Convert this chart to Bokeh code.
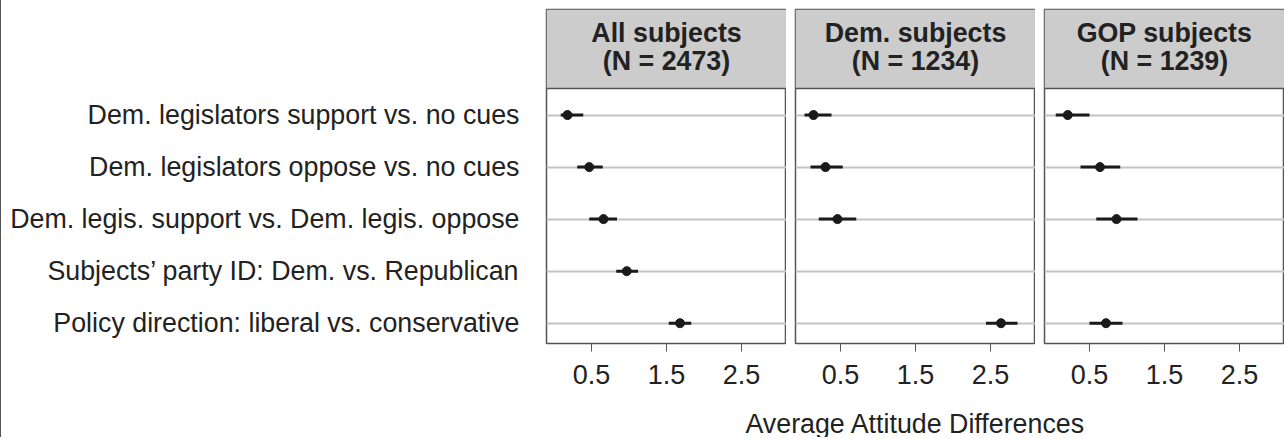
from bokeh.plotting import figure
from bokeh.layouts import row, column
from bokeh.models import Range1d, FixedTicker, BoxAnnotation, Span, Label, ColumnDataSource
from bokeh.embed import file_html
from bokeh.resources import INLINE

# ---------------- data ----------------
comparisons = [
    "Dem. legislators support vs. no cues",
    "Dem. legislators oppose vs. no cues",
    "Dem. legis. support vs. Dem. legis. oppose",
    "Subjects\u2019 party ID: Dem. vs. Republican",
    "Policy direction: liberal vs. conservative",
]
panel_titles = ["All subjects", "Dem. subjects", "GOP subjects"]
panel_ns = ["(N = 2473)", "(N = 1234)", "(N = 1239)"]
x_ticks = [0.5, 1.5, 2.5]
x_title = "Average Attitude Differences"

all_est = [0.18, 0.47, 0.66, 0.97, 1.68]
all_lo = [0.09, 0.31, 0.47, 0.83, 1.53]
all_hi = [0.39, 0.65, 0.84, 1.12, 1.83]

dem_est = [0.14, 0.30, 0.46, None, 2.64]
dem_lo = [0.02, 0.10, 0.21, None, 2.44]
dem_hi = [0.38, 0.53, 0.71, None, 2.86]

gop_est = [0.21, 0.64, 0.86, None, 0.72]
gop_lo = [0.05, 0.38, 0.59, None, 0.50]
gop_hi = [0.50, 0.91, 1.14, None, 0.94]

panels = [(all_est, all_lo, all_hi), (dem_est, dem_lo, dem_hi), (gop_est, gop_lo, gop_hi)]

# ---------------- styling / layout ----------------
FONT = "Liberation Sans"
TEXT = "#222222"
FRAME = "#555555"
DARK = "#1a1a1a"

TOP = 9
HEADER_H = 79
PLOT_H = 255
BOTTOM = 52
FIG_H = TOP + HEADER_H + PLOT_H + BOTTOM
TITLE_H = 42
PANEL_W = 240
GAP = 9
LABEL_W = 545

n = len(comparisons)
row_y = [n - i for i in range(n)]
Y_LO, Y_HI = 0.61, n + 0.51
unit = PLOT_H / (Y_HI - Y_LO)
Y_TOP = Y_HI + HEADER_H / unit
X_LO, X_HI = -0.1, 3.1

figs = []
for k, (est, lo, hi) in enumerate(panels):
    left = LABEL_W if k == 0 else GAP
    p = figure(width=left + PANEL_W, height=FIG_H,
               x_range=Range1d(X_LO, X_HI), y_range=Range1d(Y_LO, Y_TOP),
               output_backend="svg", toolbar_location=None,
               min_border_top=TOP, min_border_bottom=BOTTOM,
               min_border_left=left, min_border_right=0)
    p.background_fill_color = "white"
    p.border_fill_color = "white"
    p.outline_line_color = FRAME
    p.outline_line_width = 1.5

    # header strip
    p.add_layout(BoxAnnotation(bottom=Y_HI, fill_color="#cccccc", fill_alpha=1.0,
                               line_color=None, level="underlay"))
    p.add_layout(Span(location=Y_HI, dimension="width", line_color=FRAME, line_width=1.5))
    xm = (X_LO + X_HI) / 2
    for txt, off in ((panel_titles[k], 23), (panel_ns[k], 51)):
        p.add_layout(Label(x=xm, y=Y_TOP - off / unit, text=txt, text_align="center",
                           text_baseline="middle", text_font=FONT, text_font_style="bold",
                           text_font_size="26.8px", text_color=TEXT))

    # grid
    p.xgrid.visible = False
    p.ygrid.ticker = FixedTicker(ticks=row_y)
    p.ygrid.grid_line_color = "#c4c4c4"
    p.ygrid.grid_line_width = 2

    # data
    ys = [row_y[i] for i in range(n) if est[i] is not None]
    src = ColumnDataSource(dict(
        y=ys,
        est=[e for e in est if e is not None],
        lo=[v for v in lo if v is not None],
        hi=[v for v in hi if v is not None],
    ))
    p.segment(x0="lo", x1="hi", y0="y", y1="y", source=src, line_width=3, line_color=DARK)
    p.scatter(x="est", y="y", source=src, size=9, fill_color=DARK, line_color=DARK)

    # x axis
    xa = p.xaxis[0]
    xa.ticker = FixedTicker(ticks=x_ticks)
    xa.axis_line_color = None
    xa.major_tick_out = 8
    xa.major_tick_in = 0
    xa.major_tick_line_color = FRAME
    xa.minor_tick_line_color = None
    xa.major_label_text_font = FONT
    xa.major_label_text_font_size = "27px"
    xa.major_label_text_color = TEXT
    xa.major_label_standoff = 13

    # y axis
    ya = p.yaxis[0]
    if k == 0:
        ya.ticker = FixedTicker(ticks=row_y)
        ya.major_label_overrides = {row_y[i]: comparisons[i] for i in range(n)}
        ya.axis_line_color = None
        ya.major_tick_line_color = None
        ya.minor_tick_line_color = None
        ya.major_label_text_font = FONT
        ya.major_label_text_font_size = "26.8px"
        ya.major_label_text_color = TEXT
        ya.major_label_standoff = 21
    else:
        ya.visible = False
    figs.append(p)

# shared x-axis title, centred under the middle panel
total_w = LABEL_W + 3 * PANEL_W + 2 * GAP
t = figure(width=total_w, height=TITLE_H, x_range=Range1d(0, total_w), y_range=Range1d(0, TITLE_H),
           output_backend="svg", toolbar_location=None,
           min_border_top=0, min_border_bottom=0, min_border_left=0, min_border_right=0)
t.axis.visible = False
t.grid.visible = False
t.outline_line_color = None
t.background_fill_color = "white"
t.border_fill_color = "white"
mid2 = LABEL_W + PANEL_W + GAP + PANEL_W / 2
t.add_layout(Label(x=mid2, y=TITLE_H - 28, text=x_title, text_align="center",
                   text_baseline="middle", text_font=FONT, text_font_size="26.8px",
                   text_color=TEXT))

layout = column(row(*figs), t)
layout.styles = {"border-left": "1px solid #555555"}
open("out.html", "w").write(file_html(layout, INLINE))
